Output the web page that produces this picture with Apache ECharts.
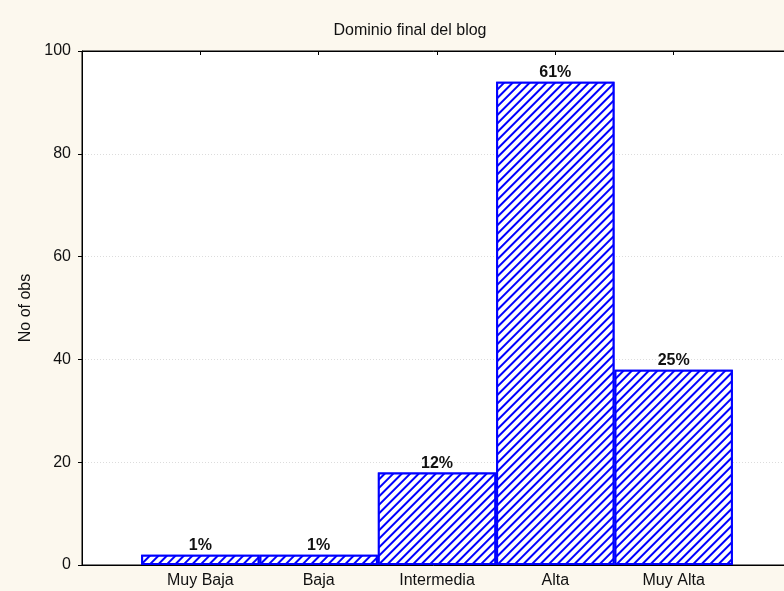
<!DOCTYPE html>
<html>
<head>
<meta charset="utf-8">
<script src="https://cdn.jsdelivr.net/npm/echarts@6/dist/echarts.min.js"></script>
<style>
html,body{margin:0;padding:0;background:#fcf8ee;}
#chart{width:784px;height:591px;}
</style>
</head>
<body>
<div id="chart"></div>
<script>
const titleText = 'Dominio final del blog';
const yAxisName = 'No of obs';
const categories = ['Muy Baja', 'Baja', 'Intermedia', 'Alta', 'Muy Alta'];
const counts = [2, 2, 18, 94, 38];
const percentLabels = ['1%', '1%', '12%', '61%', '25%'];
const yTicks = [0, 20, 40, 60, 80, 100];

// pad half-slot on each side (axis spans 0..6 with bars at 1..5)
const axisCats = [''].concat(categories, ['']);
const barData = [null].concat(counts, [null]);

const chart = echarts.init(document.getElementById('chart'), null, {renderer: 'canvas'});
const font = '"Liberation Sans", Arial, sans-serif';

chart.setOption({
  backgroundColor: '#fcf8ee',
  animation: false,
  title: {
    text: titleText,
    left: 405,
    top: 18,
    textAlign: 'center',
    textStyle: {fontFamily: font, fontSize: 16, fontWeight: 'normal', color: '#111'}
  },
  grid: {
    left: 82, width: 710, top: 51, bottom: 26,
    outerBoundsMode: 'none',
    containLabel: false,
    show: true, backgroundColor: '#ffffff', borderColor: '#000', borderWidth: 1
  },
  xAxis: [{
    type: 'category',
    data: axisCats,
    boundaryGap: false,
    position: 'bottom',
    axisLine: {show: true, lineStyle: {color: '#000', width: 1}},
    axisTick: {show: true, inside: true, length: 4, lineStyle: {color: '#000'},
      interval: function (i, v) { return v !== ''; }},
    axisLabel: {fontFamily: font, fontSize: 16, color: '#111', margin: 8,
      interval: function (i, v) { return v !== ''; }},
    splitLine: {show: false}
  }, {
    type: 'category',
    data: axisCats,
    boundaryGap: false,
    position: 'top',
    axisLine: {show: true, lineStyle: {color: '#000', width: 1}},
    axisTick: {show: true, inside: true, length: 4, lineStyle: {color: '#000'},
      interval: function (i, v) { return v !== ''; }},
    axisLabel: {show: false},
    splitLine: {show: false}
  }],
  yAxis: {
    type: 'value',
    min: yTicks[0], max: yTicks[yTicks.length - 1], interval: 20,
    name: yAxisName,
    nameLocation: 'middle',
    nameGap: 44,
    nameTextStyle: {fontFamily: font, fontSize: 16, color: '#111'},
    axisLine: {show: true, lineStyle: {color: '#000', width: 1}},
    axisTick: {show: true, inside: false, length: 4, lineStyle: {color: '#000'}},
    axisLabel: {fontFamily: font, fontSize: 16, color: '#111', margin: 11},
    splitLine: {show: true, lineStyle: {color: '#dcdcdc', type: [1, 2], width: 1}}
  },
  series: [{
    type: 'bar',
    data: barData,
    barWidth: '100%',
    barCategoryGap: 0,
    itemStyle: {
      color: '#ffffff',
      borderColor: '#0000ff',
      borderWidth: 2,
      decal: {
        symbol: 'rect',
        symbolSize: 1,
        color: '#0000ff',
        backgroundColor: '#ffffff',
        dashArrayX: [1, 0],
        dashArrayY: [1.2, 3.2],
        rotation: -Math.PI / 4
      }
    },
    label: {
      show: true,
      position: 'top',
      distance: 1,
      fontFamily: font,
      fontSize: 16,
      fontWeight: 'bold',
      color: '#111',
      formatter: function (p) { return percentLabels[p.dataIndex - 1]; }
    }
  }]
});
</script>
</body>
</html>
